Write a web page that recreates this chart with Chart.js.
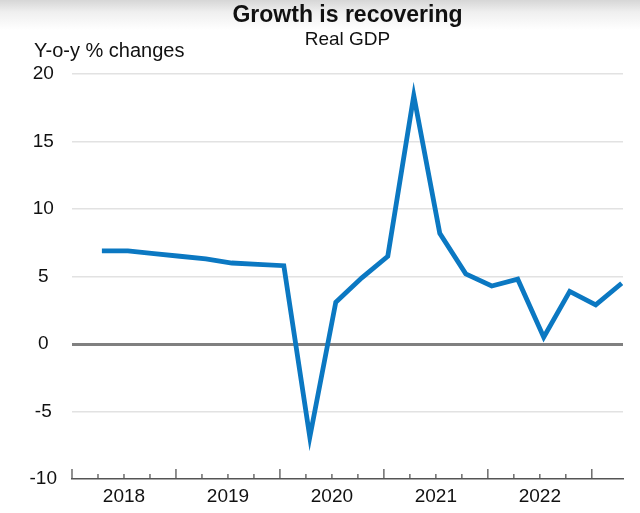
<!DOCTYPE html>
<html>
<head>
<meta charset="utf-8">
<script src="https://cdn.jsdelivr.net/npm/chart.js@4/dist/chart.umd.min.js"></script>
<style>
html, body { margin: 0; padding: 0; }
body { width: 640px; height: 513px; overflow: hidden;
  background: linear-gradient(to bottom, #d6d6d6 0px, #efefef 12px, #ffffff 30px); }
canvas { display: block; }
</style>
</head>
<body>
<canvas id="c" width="640" height="513"></canvas>
<script>
// ---- Data ----
const quarters = ['2018Q1','2018Q2','2018Q3','2018Q4',
                  '2019Q1','2019Q2','2019Q3','2019Q4',
                  '2020Q1','2020Q2','2020Q3','2020Q4',
                  '2021Q1','2021Q2','2021Q3','2021Q4',
                  '2022Q1','2022Q2','2022Q3','2022Q4',
                  '2023Q1'];
const gdpGrowth = [6.9, 6.9, 6.7, 6.5,
                   6.3, 6.0, 5.9, 5.8,
                   -6.9, 3.1, 4.9, 6.5,
                   18.4, 8.2, 5.2, 4.3,
                   4.8, 0.5, 3.9, 2.9,
                   4.5];
const yearLabels = ['2018', '2019', '2020', '2021', '2022'];
const yTickValues = [-10, -5, 0, 5, 10, 15, 20];
const chartTitle = 'Growth is recovering';
const chartSubtitle = 'Real GDP';
const yAxisTitle = 'Y-o-y % changes';

// ---- Layout / style ----
const FONT = "'Liberation Sans', Arial, Helvetica, sans-serif";
const Q_OFFSET = 1.15;          // position of a quarter's point within the quarterly grid
const X_MAX = 21.2;

const quarterTicks = {
  id: 'quarterTicks',
  afterDraw(chart) {
    const xs = chart.scales.x;
    const ctx = chart.ctx;
    const base = chart.chartArea.bottom;
    ctx.save();
    ctx.strokeStyle = '#555555';
    ctx.lineWidth = 1.3;
    xs.ticks.forEach(t => {
      if (!Number.isInteger(t.value)) return;
      const px = xs.getPixelForValue(t.value);
      const len = (t.value % 4 === 0) ? 10 : 5;
      ctx.beginPath();
      ctx.moveTo(px, base);
      ctx.lineTo(px, base - len);
      ctx.stroke();
    });
    ctx.restore();
  }
};

const yTitlePlugin = {
  id: 'yTitle',
  afterDraw(chart) {
    const ctx = chart.ctx;
    ctx.save();
    ctx.font = '20px ' + FONT;
    ctx.fillStyle = '#111111';
    ctx.textAlign = 'left';
    ctx.textBaseline = 'alphabetic';
    ctx.fillText(yAxisTitle, 34, 57);
    ctx.restore();
  }
};

new Chart(document.getElementById('c'), {
  type: 'line',
  data: {
    labels: quarters,
    datasets: [{
      label: chartSubtitle,
      data: gdpGrowth.map((v, i) => ({ x: i + Q_OFFSET, y: v, q: quarters[i] })),
      borderColor: '#0b78c2',
      borderWidth: 4.8,
      pointRadius: 0,
      tension: 0,
      fill: false,
      borderJoinStyle: 'miter'
    }]
  },
  options: {
    responsive: false,
    animation: false,
    layout: { padding: { left: 0, right: 17, top: 0, bottom: 0 } },
    plugins: {
      legend: { display: false },
      tooltip: { enabled: false },
      title: {
        display: true, text: chartTitle, fullSize: false, color: '#111111',
        font: { family: FONT, size: 23, weight: 'bold', lineHeight: 1 },
        padding: { top: 4, bottom: 0 }
      },
      subtitle: {
        display: true, text: chartSubtitle, fullSize: false, color: '#111111',
        font: { family: FONT, size: 19, lineHeight: 1 },
        padding: { top: 3.5, bottom: 24.5 }
      }
    },
    scales: {
      x: {
        type: 'linear', min: 0, max: X_MAX,
        afterFit(s) { s.height = 34; },
        grid: { display: false, drawTicks: false },
        border: { display: true, color: '#555555', width: 1.5 },
        ticks: {
          stepSize: 1, autoSkip: false, maxRotation: 0, minRotation: 0,
          padding: 6, color: '#111111',
          font: { family: FONT, size: 19 },
          callback: (v) => {
            if (Number.isInteger(v) && v % 4 === 2) {
              const lbl = yearLabels[(v - 2) / 4];
              return lbl === undefined ? '' : lbl;
            }
            return '';
          }
        }
      },
      y: {
        min: yTickValues[0], max: yTickValues[yTickValues.length - 1],
        afterFit(s) { s.width = 72; },
        afterBuildTicks(s) { s.ticks = yTickValues.map(v => ({ value: v })); },
        border: { display: false },
        grid: {
          drawTicks: false,
          color: (c) => c.tick && c.tick.value === 0 ? '#808080'
                      : (c.tick && c.tick.value === yTickValues[0] ? 'rgba(0,0,0,0)' : '#e2e2e2'),
          lineWidth: (c) => c.tick && c.tick.value === 0 ? 3 : 1.5
        },
        ticks: {
          crossAlign: 'center', padding: 15, color: '#111111',
          font: { family: FONT, size: 19 }
        }
      }
    }
  },
  plugins: [quarterTicks, yTitlePlugin]
});
</script>
</body>
</html>
